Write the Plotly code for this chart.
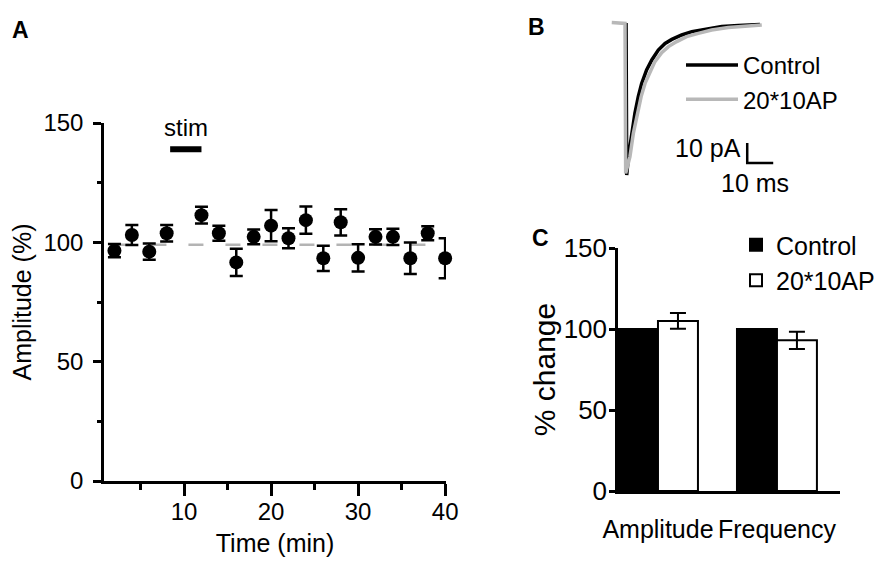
import plotly.graph_objects as go

FONT = "Liberation Sans, Arial, Helvetica, sans-serif"
W, H = 892, 570
OFF = 8  # the page body adds an 8px margin around the figure

# ---------- A: amplitude over time ----------
time_min = [2, 4, 6, 8, 12, 14, 16, 18, 20, 22, 24, 26, 28, 30, 32, 34, 36, 38, 40]
amp_pct = [96.5, 103.1, 96.1, 103.8, 111.4, 103.8, 91.6, 102.3, 107.0, 101.7,
           109.3, 93.3, 108.4, 93.5, 102.3, 102.3, 93.3, 103.8, 93.3]
amp_sem = [2.8, 4.2, 3.4, 3.5, 3.5, 3.1, 5.7, 3.1, 6.5, 4.2,
           5.7, 5.3, 5.5, 5.7, 3.2, 3.4, 6.6, 2.9, 8.4]
baseline_t = [2, 40]
baseline_pct = [99, 99]
stim_t = [8.4, 12]
stim_pct = [139, 139]

# ---------- B: averaged mEPSC traces (ms, pA) ----------
ctrl_ms = [0.4, 0.65, 1.3, 2.6, 3.8, 5.1, 6.4, 8.3, 10.3, 12.8, 15.4, 18.0,
           21.8, 25.7, 30.8, 37.2, 43.6, 51.9]
ctrl_pa = [0, -76, -66.8, -55.2, -45.2, -36.8, -30.2, -23.5, -18.5, -13.5, -10.2, -8.2,
           -6.0, -4.3, -3.0, -1.8, -1.2, -0.7]
stim_ms = [-5.1, 0, 0.25, 1.9, 3.2, 4.7, 6.2, 7.7, 9.6, 11.5, 14.1, 16.7, 19.9,
           23.7, 28.2, 33.3, 39.7, 46.2, 52.6]
stim_pa = [0.2, -0.2, -75.2, -66.8, -55.2, -45.2, -36.8, -30.2, -24.3, -19.3, -14.8,
           -11.8, -9.3, -6.8, -5.2, -3.5, -2.3, -1.5, -1.0]
scale_ms = [47, 47, 57]
scale_pa = [-60, -70, -70]

# ---------- C: summary bars ----------
categories = ["Amplitude", "Frequency"]
ctrl_change = [100, 100]
stim_change = [105, 93]
stim_change_err = [4.8, 5.3]


def px_x(p):
    return (p - OFF) / W


def px_y(p):
    return 1 - (p - OFF) / H


fig = go.Figure()

# A
fig.add_trace(go.Scatter(
    x=baseline_t, y=baseline_pct, mode="lines", showlegend=False,
    line=dict(color="#b4b4b4", width=2.5, dash="15px,22px"),
    xaxis="x", yaxis="y"))
fig.add_trace(go.Scatter(
    x=time_min, y=amp_pct, mode="markers", showlegend=False,
    marker=dict(color="black", size=14),
    error_y=dict(type="data", array=amp_sem, color="black", thickness=2.5, width=6.5),
    xaxis="x", yaxis="y", cliponaxis=False))
fig.add_trace(go.Scatter(
    x=stim_t, y=stim_pct, mode="lines", showlegend=False,
    line=dict(color="black", width=6), xaxis="x", yaxis="y"))

# B
fig.add_trace(go.Scatter(
    x=ctrl_ms, y=ctrl_pa, mode="lines", name="Control",
    line=dict(color="black", width=3.5), xaxis="x2", yaxis="y2", legend="legend"))
fig.add_trace(go.Scatter(
    x=stim_ms, y=stim_pa, mode="lines", name="20*10AP",
    line=dict(color="#b8b8b8", width=3.5), xaxis="x2", yaxis="y2", legend="legend"))
fig.add_trace(go.Scatter(
    x=scale_ms, y=scale_pa, mode="lines", showlegend=False,
    line=dict(color="black", width=2.5), xaxis="x2", yaxis="y2"))

# C
fig.add_trace(go.Bar(
    x=categories, y=ctrl_change, name="Control",
    marker=dict(color="black", line=dict(color="black", width=2)),
    xaxis="x3", yaxis="y3", legend="legend2"))
fig.add_trace(go.Bar(
    x=categories, y=stim_change, name="20*10AP",
    marker=dict(color="white", line=dict(color="black", width=2)),
    error_y=dict(type="data", array=stim_change_err, color="black", thickness=2, width=8),
    xaxis="x3", yaxis="y3", legend="legend2"))

axis_common = dict(showgrid=False, zeroline=False, linecolor="black", linewidth=2.5,
                   tickcolor="black", tickwidth=2.5, fixedrange=True, automargin=False)

fig.update_layout(
    width=W, height=H,
    margin=dict(l=0, r=0, t=0, b=0),
    paper_bgcolor="white", plot_bgcolor="white",
    font=dict(family=FONT, color="black", size=24),
    barmode="group", bargap=0.328, bargroupgap=0,
    xaxis=dict(
        **axis_common, domain=[px_x(104), px_x(446)], range=[0.8, 40.1],
        showline=True, ticks="outside", ticklen=12, tick0=0, dtick=10,
        minor=dict(ticks="outside", ticklen=6, tickwidth=2.5, tickcolor="black", dtick=5),
        tickfont=dict(size=24), ticklabelstandoff=-5, tickangle=0,
        title=dict(text="Time (min)", font=dict(size=25), standoff=11),
        anchor="y"),
    yaxis=dict(
        **axis_common, domain=[px_y(481), px_y(123)], range=[0, 150],
        showline=True, ticks="outside", ticklen=8, tick0=0, dtick=50,
        minor=dict(ticks="outside", ticklen=4, tickwidth=2.5, tickcolor="black", dtick=25),
        tickfont=dict(size=24), ticklabelstandoff=5,
        title=dict(text="Amplitude (%)", font=dict(size=25), standoff=8),
        anchor="x"),
    xaxis2=dict(domain=[px_x(605), px_x(800)], range=[-7.7, 67.3], visible=False,
                fixedrange=True, automargin=False, anchor="y2"),
    yaxis2=dict(domain=[px_y(190), px_y(15)], range=[-83.5, 4], visible=False,
                fixedrange=True, automargin=False, anchor="x2"),
    xaxis3=dict(
        **axis_common, domain=[px_x(618), px_x(840)], range=[-0.336, 1.53],
        type="category", showline=True, ticks="", tickfont=dict(size=25),
        ticklabelstandoff=14, tickangle=0, anchor="y3"),
    yaxis3=dict(
        **axis_common, domain=[px_y(491), px_y(248)], range=[0, 150],
        showline=True, ticks="outside", ticklen=6, dtick=50, tickfont=dict(size=26),
        ticklabelstandoff=-3,
        title=dict(text="% change", font=dict(size=30), standoff=0),
        anchor="x3"),
    legend=dict(x=px_x(681), y=px_y(43), xanchor="left", yanchor="top",
                font=dict(size=24), bgcolor="rgba(0,0,0,0)", itemwidth=52,
                tracegroupgap=0),
    legend2=dict(x=px_x(736), y=px_y(222), xanchor="left", yanchor="top",
                 font=dict(size=25), bgcolor="rgba(0,0,0,0)", tracegroupgap=0),
    showlegend=True,
    annotations=[
        dict(text="<b>A</b>", x=px_x(20), y=px_y(30), xref="paper", yref="paper",
             xanchor="center", yanchor="middle", showarrow=False, font=dict(size=23)),
        dict(text="<b>B</b>", x=px_x(536), y=px_y(27), xref="paper", yref="paper",
             xanchor="center", yanchor="middle", showarrow=False, font=dict(size=23)),
        dict(text="<b>C</b>", x=px_x(540), y=px_y(238), xref="paper", yref="paper",
             xanchor="center", yanchor="middle", showarrow=False, font=dict(size=23)),
        dict(text="stim", x=10.2, y=148.3, xref="x", yref="y", showarrow=False,
             font=dict(size=24)),
        dict(text="10 pA", x=45.5, y=-62.5, xref="x2", yref="y2", xanchor="right",
             showarrow=False, font=dict(size=25)),
        dict(text="10 ms", x=50, y=-80, xref="x2", yref="y2", showarrow=False,
             font=dict(size=25)),
    ],
)

fig.write_html("out.html")
